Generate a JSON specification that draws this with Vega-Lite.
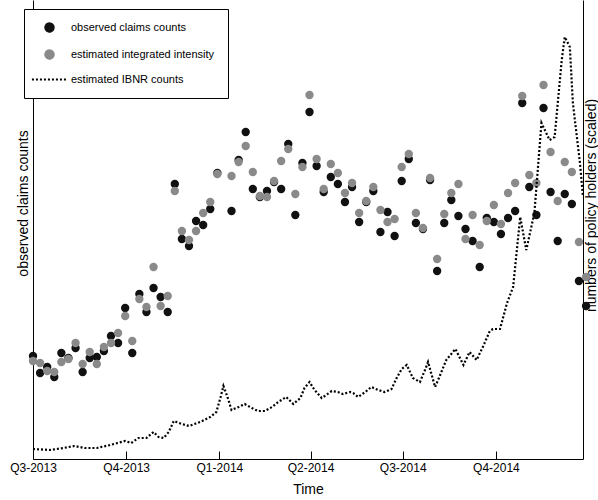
{
  "$schema": "https://vega.github.io/schema/vega-lite/v6.json",
  "width": 550,
  "height": 459,
  "autosize": {"type": "none"},
  "padding": {"left": 33, "top": 0, "right": 15, "bottom": 41},
  "background": "white",
  "config": {
    "view": {"stroke": null},
    "font": "Liberation Sans",
    "axis": {
      "grid": false,
      "domainColor": "#000000",
      "domainWidth": 1,
      "labelFont": "Liberation Sans",
      "titleFont": "Liberation Sans",
      "labelColor": "#000000",
      "titleColor": "#000000",
      "titleFontWeight": "normal",
      "titleFontSize": 14,
      "labelFontSize": 12
    },
    "legend": {
      "labelFont": "Liberation Sans",
      "labelFontSize": 11,
      "labelColor": "#000000",
      "strokeColor": "#000000",
      "fillColor": "#ffffff",
      "padding": 13,
      "symbolSize": 70,
      "symbolStrokeWidth": 2,
      "rowPadding": 10,
      "labelOffset": 16,
      "symbolOffset": 7
    }
  },
  "datasets": {
    "weekly": [
      {"t": "2013-07-01", "observed claims counts": 103, "estimated integrated intensity": 98},
      {"t": "2013-07-08", "observed claims counts": 86, "estimated integrated intensity": 96},
      {"t": "2013-07-15", "observed claims counts": 92, "estimated integrated intensity": 88},
      {"t": "2013-07-22", "observed claims counts": 82, "estimated integrated intensity": 87},
      {"t": "2013-07-29", "observed claims counts": 106, "estimated integrated intensity": 97},
      {"t": "2013-08-05", "observed claims counts": 101, "estimated integrated intensity": 100},
      {"t": "2013-08-12", "observed claims counts": 111, "estimated integrated intensity": 116},
      {"t": "2013-08-19", "observed claims counts": 87, "estimated integrated intensity": 95},
      {"t": "2013-08-26", "observed claims counts": 101, "estimated integrated intensity": 107},
      {"t": "2013-09-02", "observed claims counts": 102, "estimated integrated intensity": 95},
      {"t": "2013-09-09", "observed claims counts": 108, "estimated integrated intensity": 112},
      {"t": "2013-09-16", "observed claims counts": 123, "estimated integrated intensity": 116},
      {"t": "2013-09-23", "observed claims counts": 116, "estimated integrated intensity": 126},
      {"t": "2013-09-30", "observed claims counts": 151, "estimated integrated intensity": 143},
      {"t": "2013-10-07", "observed claims counts": 106, "estimated integrated intensity": 118},
      {"t": "2013-10-14", "observed claims counts": 165, "estimated integrated intensity": 160},
      {"t": "2013-10-21", "observed claims counts": 147, "estimated integrated intensity": 152},
      {"t": "2013-10-28", "observed claims counts": 171, "estimated integrated intensity": 192},
      {"t": "2013-11-04", "observed claims counts": 162, "estimated integrated intensity": 153},
      {"t": "2013-11-11", "observed claims counts": 147, "estimated integrated intensity": 163},
      {"t": "2013-11-18", "observed claims counts": 275, "estimated integrated intensity": 268},
      {"t": "2013-11-25", "observed claims counts": 220, "estimated integrated intensity": 228},
      {"t": "2013-12-02", "observed claims counts": 213, "estimated integrated intensity": 219},
      {"t": "2013-12-09", "observed claims counts": 238, "estimated integrated intensity": 228},
      {"t": "2013-12-16", "observed claims counts": 234, "estimated integrated intensity": 246},
      {"t": "2013-12-23", "observed claims counts": 250, "estimated integrated intensity": 257},
      {"t": "2013-12-30", "observed claims counts": 286, "estimated integrated intensity": 285},
      {"t": "2014-01-06", "observed claims counts": 439, "estimated integrated intensity": 439},
      {"t": "2014-01-13", "observed claims counts": 248, "estimated integrated intensity": 283},
      {"t": "2014-01-20", "observed claims counts": 299, "estimated integrated intensity": 297},
      {"t": "2014-01-27", "observed claims counts": 327, "estimated integrated intensity": 313},
      {"t": "2014-02-03", "observed claims counts": 270, "estimated integrated intensity": 287},
      {"t": "2014-02-10", "observed claims counts": 262, "estimated integrated intensity": 263},
      {"t": "2014-02-17", "observed claims counts": 268, "estimated integrated intensity": 262},
      {"t": "2014-02-24", "observed claims counts": 277, "estimated integrated intensity": 278},
      {"t": "2014-03-03", "observed claims counts": 270, "estimated integrated intensity": 298},
      {"t": "2014-03-10", "observed claims counts": 315, "estimated integrated intensity": 310},
      {"t": "2014-03-17", "observed claims counts": 244, "estimated integrated intensity": 265},
      {"t": "2014-03-24", "observed claims counts": 296, "estimated integrated intensity": 292},
      {"t": "2014-03-31", "observed claims counts": 347, "estimated integrated intensity": 364},
      {"t": "2014-04-07", "observed claims counts": 293, "estimated integrated intensity": 300},
      {"t": "2014-04-14", "observed claims counts": 267, "estimated integrated intensity": 270},
      {"t": "2014-04-21", "observed claims counts": 282, "estimated integrated intensity": 295},
      {"t": "2014-04-28", "observed claims counts": 275, "estimated integrated intensity": 286},
      {"t": "2014-05-05", "observed claims counts": 257, "estimated integrated intensity": 266},
      {"t": "2014-05-12", "observed claims counts": 272, "estimated integrated intensity": 276},
      {"t": "2014-05-19", "observed claims counts": 237, "estimated integrated intensity": 246},
      {"t": "2014-05-26", "observed claims counts": 257, "estimated integrated intensity": 258},
      {"t": "2014-06-02", "observed claims counts": 268, "estimated integrated intensity": 272},
      {"t": "2014-06-09", "observed claims counts": 227, "estimated integrated intensity": 249},
      {"t": "2014-06-16", "observed claims counts": 247, "estimated integrated intensity": 237},
      {"t": "2014-06-23", "observed claims counts": 223, "estimated integrated intensity": 240},
      {"t": "2014-06-30", "observed claims counts": 278, "estimated integrated intensity": 292},
      {"t": "2014-07-07", "observed claims counts": 300, "estimated integrated intensity": 305},
      {"t": "2014-07-14", "observed claims counts": 236, "estimated integrated intensity": 246},
      {"t": "2014-07-21", "observed claims counts": 230, "estimated integrated intensity": 231},
      {"t": "2014-07-28", "observed claims counts": 279, "estimated integrated intensity": 281},
      {"t": "2014-08-04", "observed claims counts": 188, "estimated integrated intensity": 200},
      {"t": "2014-08-11", "observed claims counts": 236, "estimated integrated intensity": 245},
      {"t": "2014-08-18", "observed claims counts": 259, "estimated integrated intensity": 266},
      {"t": "2014-08-25", "observed claims counts": 243, "estimated integrated intensity": 275},
      {"t": "2014-09-01", "observed claims counts": 230, "estimated integrated intensity": 220},
      {"t": "2014-09-08", "observed claims counts": 218, "estimated integrated intensity": 244},
      {"t": "2014-09-15", "observed claims counts": 192, "estimated integrated intensity": 214},
      {"t": "2014-09-22", "observed claims counts": 241, "estimated integrated intensity": 238},
      {"t": "2014-09-29", "observed claims counts": 237, "estimated integrated intensity": 254},
      {"t": "2014-10-06", "observed claims counts": 225, "estimated integrated intensity": 235},
      {"t": "2014-10-13", "observed claims counts": 241, "estimated integrated intensity": 266},
      {"t": "2014-10-20", "observed claims counts": 248, "estimated integrated intensity": 276},
      {"t": "2014-10-27", "observed claims counts": 356, "estimated integrated intensity": 363},
      {"t": "2014-11-03", "observed claims counts": 272, "estimated integrated intensity": 284},
      {"t": "2014-11-10", "observed claims counts": 244, "estimated integrated intensity": 276},
      {"t": "2014-11-17", "observed claims counts": 351, "estimated integrated intensity": 374},
      {"t": "2014-11-24", "observed claims counts": 267, "estimated integrated intensity": 307},
      {"t": "2014-12-01", "observed claims counts": 218, "estimated integrated intensity": 258},
      {"t": "2014-12-08", "observed claims counts": 265, "estimated integrated intensity": 297},
      {"t": "2014-12-15", "observed claims counts": 255, "estimated integrated intensity": 287},
      {"t": "2014-12-22", "observed claims counts": 178, "estimated integrated intensity": 217},
      {"t": "2014-12-29", "observed claims counts": 153, "estimated integrated intensity": 182}
    ],
    "ibnr": [
      {"t": "2013-07-01", "ibnr": 10}, {"t": "2013-07-18", "ibnr": 9}, {"t": "2013-07-31", "ibnr": 11},
      {"t": "2013-08-11", "ibnr": 13}, {"t": "2013-08-21", "ibnr": 11}, {"t": "2013-09-02", "ibnr": 11},
      {"t": "2013-09-15", "ibnr": 14}, {"t": "2013-09-30", "ibnr": 18}, {"t": "2013-10-06", "ibnr": 16},
      {"t": "2013-10-13", "ibnr": 21}, {"t": "2013-10-21", "ibnr": 21}, {"t": "2013-10-28", "ibnr": 27},
      {"t": "2013-11-02", "ibnr": 22}, {"t": "2013-11-07", "ibnr": 21}, {"t": "2013-11-12", "ibnr": 27},
      {"t": "2013-11-17", "ibnr": 38}, {"t": "2013-11-25", "ibnr": 35}, {"t": "2013-12-02", "ibnr": 33},
      {"t": "2013-12-13", "ibnr": 37}, {"t": "2013-12-23", "ibnr": 42}, {"t": "2013-12-29", "ibnr": 47},
      {"t": "2014-01-02", "ibnr": 61}, {"t": "2014-01-05", "ibnr": 73}, {"t": "2014-01-09", "ibnr": 62},
      {"t": "2014-01-13", "ibnr": 49}, {"t": "2014-01-20", "ibnr": 52}, {"t": "2014-01-26", "ibnr": 55},
      {"t": "2014-02-02", "ibnr": 51}, {"t": "2014-02-08", "ibnr": 48}, {"t": "2014-02-15", "ibnr": 48},
      {"t": "2014-02-22", "ibnr": 52}, {"t": "2014-02-28", "ibnr": 57}, {"t": "2014-03-08", "ibnr": 62},
      {"t": "2014-03-15", "ibnr": 55}, {"t": "2014-03-22", "ibnr": 61}, {"t": "2014-03-26", "ibnr": 71},
      {"t": "2014-03-31", "ibnr": 77}, {"t": "2014-04-05", "ibnr": 69}, {"t": "2014-04-12", "ibnr": 61},
      {"t": "2014-04-15", "ibnr": 63}, {"t": "2014-04-22", "ibnr": 68}, {"t": "2014-04-28", "ibnr": 67},
      {"t": "2014-05-03", "ibnr": 65}, {"t": "2014-05-10", "ibnr": 67}, {"t": "2014-05-13", "ibnr": 66},
      {"t": "2014-05-18", "ibnr": 62}, {"t": "2014-05-25", "ibnr": 67}, {"t": "2014-05-31", "ibnr": 72},
      {"t": "2014-06-07", "ibnr": 69}, {"t": "2014-06-13", "ibnr": 67}, {"t": "2014-06-20", "ibnr": 70},
      {"t": "2014-06-25", "ibnr": 81}, {"t": "2014-06-30", "ibnr": 90}, {"t": "2014-07-05", "ibnr": 94},
      {"t": "2014-07-11", "ibnr": 81}, {"t": "2014-07-18", "ibnr": 77}, {"t": "2014-07-23", "ibnr": 89},
      {"t": "2014-07-26", "ibnr": 97}, {"t": "2014-08-02", "ibnr": 72}, {"t": "2014-08-07", "ibnr": 84},
      {"t": "2014-08-13", "ibnr": 99}, {"t": "2014-08-22", "ibnr": 110}, {"t": "2014-08-30", "ibnr": 94},
      {"t": "2014-09-05", "ibnr": 107}, {"t": "2014-09-12", "ibnr": 99}, {"t": "2014-09-19", "ibnr": 114},
      {"t": "2014-09-25", "ibnr": 128}, {"t": "2014-09-28", "ibnr": 130}, {"t": "2014-10-05", "ibnr": 130},
      {"t": "2014-10-08", "ibnr": 141}, {"t": "2014-10-12", "ibnr": 156}, {"t": "2014-10-18", "ibnr": 172},
      {"t": "2014-10-25", "ibnr": 242}, {"t": "2014-10-31", "ibnr": 209}, {"t": "2014-11-08", "ibnr": 246},
      {"t": "2014-11-15", "ibnr": 336}, {"t": "2014-11-23", "ibnr": 319}, {"t": "2014-11-28", "ibnr": 322},
      {"t": "2014-12-05", "ibnr": 399}, {"t": "2014-12-08", "ibnr": 422}, {"t": "2014-12-13", "ibnr": 412},
      {"t": "2014-12-16", "ibnr": 356}, {"t": "2014-12-23", "ibnr": 296}, {"t": "2014-12-26", "ibnr": 262}
    ]
  },
  "layer": [
    {
      "data": {"name": "weekly"},
      "transform": [
        {"fold": ["observed claims counts", "estimated integrated intensity"], "as": ["series", "v"]}
      ],
      "mark": {"type": "point", "filled": true, "size": 70, "opacity": 1},
      "encoding": {
        "x": {
          "field": "t",
          "type": "temporal",
          "title": "Time",
          "scale": {
            "type": "utc",
            "nice": false,
            "domain": [
              {"year": 2013, "month": 7, "date": 1, "utc": true},
              {"year": 2014, "month": 12, "date": 26, "utc": true}
            ]
          },
          "axis": {
            "values": [
              {"year": 2013, "month": 7, "date": 1, "utc": true},
              {"year": 2013, "month": 10, "date": 1, "utc": true},
              {"year": 2014, "month": 1, "date": 1, "utc": true},
              {"year": 2014, "month": 4, "date": 1, "utc": true},
              {"year": 2014, "month": 7, "date": 1, "utc": true},
              {"year": 2014, "month": 10, "date": 1, "utc": true}
            ],
            "labelExpr": "'Q' + utcquarter(datum.value) + '-' + utcyear(datum.value)",
            "labelFlush": false,
            "labelOverlap": false,
            "ticks": true,
            "tickSize": -8,
            "tickColor": "#000000",
            "tickWidth": 1,
            "labelPadding": 11,
            "titleBaseline": "alphabetic",
            "titleY": 34
          }
        },
        "y": {
          "field": "v",
          "type": "quantitative",
          "scale": {"domain": [0, 459], "nice": false, "zero": false},
          "axis": {
            "orient": "left",
            "labels": false,
            "ticks": false,
            "title": "observed claims counts",
            "titleAngle": -90,
            "titleX": -6,
            "titleY": 203,
            "titleBaseline": "alphabetic",
            "titleAlign": "center"
          }
        },
        "color": {
          "field": "series",
          "type": "nominal",
          "scale": {
            "domain": ["observed claims counts", "estimated integrated intensity", "estimated IBNR counts"],
            "range": ["#111111", "#8a8a8a", "#000000"]
          },
          "legend": {
            "title": null,
            "orient": "none",
            "legendX": -9,
            "legendY": 9,
            "symbolType": {"expr": "datum.value === 'estimated IBNR counts' ? 'M-4.2,0L4.2,0' : 'circle'"},
            "symbolDash": {"expr": "datum.value === 'estimated IBNR counts' ? [2, 2] : [1, 0]"},
            "symbolStrokeColor": {"expr": "datum.value === 'estimated IBNR counts' ? '#000000' : 'transparent'"},
            "symbolStrokeWidth": 2
          }
        },
        "order": {"field": "series", "sort": "descending"}
      }
    },
    {
      "data": {"name": "ibnr"},
      "mark": {"type": "line", "strokeDash": [2, 2], "strokeWidth": 2.2, "interpolate": "linear"},
      "encoding": {
        "x": {
          "field": "t",
          "type": "temporal",
          "title": "Time"
        },
        "y": {
          "field": "ibnr",
          "type": "quantitative",
          "scale": {"domain": [0, 459], "nice": false, "zero": false},
          "axis": {
            "orient": "right",
            "labels": false,
            "ticks": false,
            "title": "numbers of policy holders (scaled)",
            "titleAngle": -90,
            "titleX": 12,
            "titleY": 205,
            "titleBaseline": "alphabetic",
            "titleAlign": "center"
          }
        },
        "color": {"datum": "estimated IBNR counts", "legend": null}
      }
    }
  ],
  "resolve": {"scale": {"y": "independent"}}
}
